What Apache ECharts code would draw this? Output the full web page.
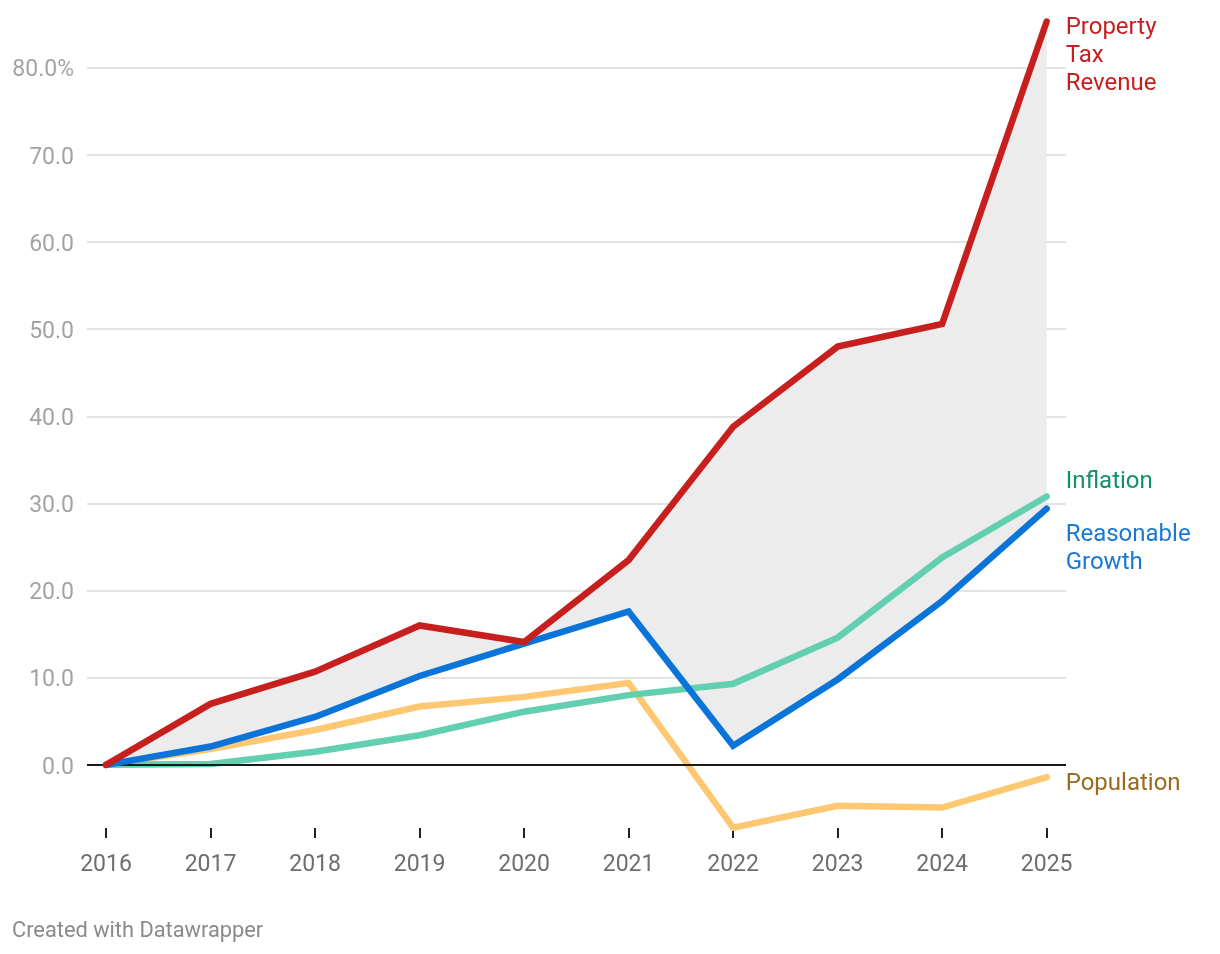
<!DOCTYPE html>
<html>
<head>
<meta charset="utf-8">
<script src="https://cdn.jsdelivr.net/npm/echarts@6/dist/echarts.min.js"></script>
<style>html,body{margin:0;padding:0;background:#fff}#c{width:1220px;height:954px}</style>
</head>
<body>
<div id="c"></div>
<script>
const years = [2016, 2017, 2018, 2019, 2020, 2021, 2022, 2023, 2024, 2025];
const propertyTax = [0, 7.0, 10.7, 16.0, 14.1, 23.5, 38.8, 48.0, 50.6, 85.3];
const reasonableGrowth = [0, 2.1, 5.5, 10.2, 13.9, 17.6, 2.2, 9.8, 18.8, 29.4];
const inflation = [0, 0.1, 1.5, 3.4, 6.1, 8.0, 9.3, 14.6, 23.8, 30.8];
const population = [0, 1.8, 4.0, 6.7, 7.8, 9.4, -7.2, -4.7, -4.9, -1.4];
const yTicks = [0, 10, 20, 30, 40, 50, 60, 70, 80];

const pairs = arr => years.map((y, i) => [y, arr[i]]);
const FONT = 'Roboto, "Noto Sans", sans-serif';

function lineSeries(name, arr, color, labelColor, labelText, offsetY, z) {
  return {
    name, type: 'line', data: pairs(arr), z,
    showSymbol: false, symbol: 'none', clip: false, silent: true,
    lineStyle: { color, width: 6.5, cap: 'round', join: 'miter' },
    endLabel: {
      show: true, formatter: labelText, color: labelColor,
      fontFamily: FONT, fontSize: 24, lineHeight: 28,
      distance: 19, offset: [0, offsetY], align: 'left'
    }
  };
}

const chart = echarts.init(document.getElementById('c'), null, { renderer: 'canvas' });
chart.setOption({
  animation: false,
  backgroundColor: '#fff',
  title: {
    text: 'Created with Datawrapper', left: 12, top: 921, padding: 0,
    textStyle: { color: '#8a8a8a', fontSize: 21.8, fontWeight: 'normal', fontFamily: FONT }
  },
  grid: { left: 87, right: 154, top: 10, bottom: 102 },
  xAxis: {
    type: 'value', min: 2015.818, max: 2025.185, offset: -24,
    axisLine: { show: false, onZero: false },
    splitLine: { show: false },
    axisTick: { show: true, customValues: years, length: 10, lineStyle: { color: '#222', width: 2 } },
    axisLabel: { customValues: years, formatter: v => String(Math.round(v)), color: '#6e6e6e', fontSize: 23, fontFamily: FONT, margin: 26 }
  },
  yAxis: {
    type: 'value', min: -10, max: 86.62, interval: 10,
    axisLine: { show: false }, axisTick: { show: false },
    axisLabel: {
      showMinLabel: false, showMaxLabel: false,
      formatter: v => yTicks.indexOf(v) < 0 ? '' : (v === 80 ? v.toFixed(1) + '%' : v.toFixed(1)),
      color: '#a3a3a3', fontSize: 23, fontFamily: FONT, margin: 13, align: 'right',
      verticalAlign: 'top', lineHeight: 6
    },
    splitLine: { show: true, showMinLine: false, showMaxLine: false, lineStyle: { color: '#e3e3e3', width: 2 } }
  },
  series: [
    {
      name: 'band', type: 'custom', z: 1, silent: true, clip: false,
      data: [[years[0], propertyTax[0], reasonableGrowth[0]]],
      renderItem: function (params, api) {
        const top = years.map((y, i) => api.coord([y, propertyTax[i]]));
        const bottom = years.map((y, i) => api.coord([y, reasonableGrowth[i]])).reverse();
        return {
          type: 'polygon',
          shape: { points: top.concat(bottom) },
          style: { fill: '#ececec', stroke: null }
        };
      },
      markLine: {
        silent: true, symbol: 'none', label: { show: false },
        lineStyle: { color: '#1a1a1a', width: 2, type: 'solid' },
        data: [{ yAxis: 0 }]
      }
    },
    lineSeries('Population', population, '#fec873', '#9b6b1c', 'Population', 7, 3),
    lineSeries('Inflation', inflation, '#62cfb1', '#11906b', 'Inflation', -14, 4),
    lineSeries('Reasonable Growth', reasonableGrowth, '#0a74d9', '#1a78d4', 'Reasonable\nGrowth', 40, 5),
    lineSeries('Property Tax Revenue', propertyTax, '#c71f1e', '#c71f1e', 'Property\nTax\nRevenue', 34, 6)
  ]
});
</script>
</body>
</html>
